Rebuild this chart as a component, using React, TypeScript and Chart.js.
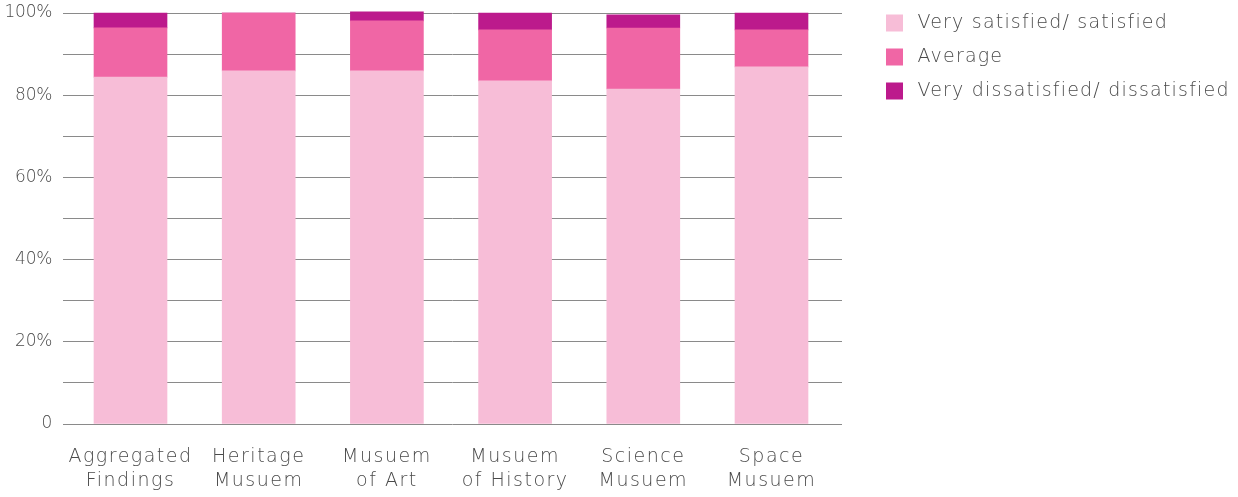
import React, { useEffect, useRef } from 'react';
import { Chart, registerables } from 'chart.js';

Chart.register(...registerables);

// ---- data ----
const categories: string[][] = [
  ['Aggregated', 'Findings'],
  ['Heritage', 'Musuem'],
  ['Musuem', 'of Art'],
  ['Musuem', 'of History'],
  ['Science', 'Musuem'],
  ['Space', 'Musuem'],
];
const seriesNames = ['Very satisfied/ satisfied', 'Average', 'Very dissatisfied/ dissatisfied'];
const satisfied = [84.4, 85.9, 85.9, 83.5, 81.5, 86.9];
const average = [12.0, 14.1, 12.2, 12.4, 14.85, 9.0];
const dissatisfied = [3.6, 0, 2.2, 4.1, 3.2, 4.1];
const seriesColors = ['#F7BDD7', '#F066A5', '#BC1A8C'];
const yMax = 100;
const yStep = 10;

// ---- layout constants ----
const W = 1238;
const H = 497;
const PLOT_LEFT = 63;
const PLOT_RIGHT = 842;
const PLOT_TOP = 13;
const PLOT_BOTTOM = 424;
const LEGEND_BOX_X = 886;
const LEGEND_TOP = -1.5;
const FIRST_CENTER = 130.5;
const CENTER_STEP = 128.2;
const FONT = "'DejaVu Sans', sans-serif";
const TEXT = '#4a4a4a';
const GRID = '#8a8a8a';
const SPACING_X = '1.5px';
const SPACING_Y = '-0.3px';
const SPACING_LEGEND = '1.2px';

function withSpacing(obj: any, key: string, spacing: string) {
  if (obj.__spaced && obj.__spaced[key]) return;
  const orig = obj[key].bind(obj);
  obj[key] = function (...args: any[]) {
    const ctx = obj.ctx;
    const prev = ctx.letterSpacing;
    ctx.letterSpacing = spacing;
    const r = orig(...args);
    ctx.letterSpacing = prev;
    return r;
  };
  obj.__spaced = { ...(obj.__spaced || {}), [key]: true };
}

const layoutPlugin = {
  id: 'layoutPlugin',
  beforeLayout(chart: any) {
    const lg = chart.legend;
    if (lg && !lg.__patched) {
      const orig = lg.fit.bind(lg);
      lg.fit = function () {
        orig();
        this.width = chart.width - PLOT_RIGHT;
      };
      lg.__patched = true;
    }
  },
  afterLayout(chart: any) {
    const lg = chart.legend;
    if (lg) {
      const pad = lg.options.labels.padding;
      const dx = LEGEND_BOX_X - (lg.left + pad);
      lg.left += dx;
      lg.right += dx;
      const dy = LEGEND_TOP - lg.top;
      lg.top += dy;
      lg.bottom += dy;
      withSpacing(lg, 'draw', SPACING_LEGEND);
    }
    if (chart.scales.x) withSpacing(chart.scales.x, 'drawLabels', SPACING_X);
    if (chart.scales.y) withSpacing(chart.scales.y, 'drawLabels', SPACING_Y);
  },
};

export default function App() {
  const ref = useRef<HTMLCanvasElement>(null);

  useEffect(() => {
    if (!ref.current) return;
    const xMin = (PLOT_LEFT - FIRST_CENTER) / CENTER_STEP;
    const xMax = (PLOT_RIGHT - FIRST_CENTER) / CENTER_STEP;
    const series = [satisfied, average, dissatisfied];
    const chart = new Chart(ref.current, {
      type: 'bar',
      data: {
        datasets: series.map((vals, si) => ({
          label: seriesNames[si],
          data: vals.map((v, i) => ({ x: i, y: v })),
          backgroundColor: seriesColors[si],
          borderWidth: 0,
          barThickness: 73,
          clip: false as any,
        })),
      },
      options: {
        animation: false,
        responsive: true,
        maintainAspectRatio: false,
        layout: { padding: 0 },
        plugins: {
          tooltip: { enabled: false },
          legend: {
            position: 'right',
            align: 'start',
            labels: {
              boxWidth: 17,
              boxHeight: 17,
              padding: 15,
              color: TEXT,
              font: { family: FONT, size: 19, weight: '200' as any },
              generateLabels: (chart: any) => {
                const items = Chart.defaults.plugins.legend.labels.generateLabels(chart);
                return items.map((it: any) => ({ ...it, text: '\u2009' + it.text, lineWidth: 0 }));
              },
            },
          },
        },
        scales: {
          x: {
            type: 'linear',
            offset: false,
            stacked: true,
            min: xMin,
            max: xMax,
            grid: { display: false },
            border: { display: false },
            afterFit: (s: any) => {
              s.height = H - PLOT_BOTTOM;
              s.paddingLeft = 0;
              s.paddingRight = 0;
            },
            afterBuildTicks: (s: any) => {
              s.ticks = categories.map((_, i) => ({ value: i }));
            },
            ticks: {
              autoSkip: false,
              maxRotation: 0,
              minRotation: 0,
              padding: 13,
              color: TEXT,
              font: { family: FONT, size: 19, weight: '200' as any, lineHeight: 1.26 },
              callback: (v: any) => {
                const i = Math.round(Number(v));
                return Math.abs(Number(v) - i) < 1e-6 && categories[i] ? categories[i] : '';
              },
            },
          },
          y: {
            stacked: true,
            min: 0,
            max: yMax,
            grid: { color: GRID, lineWidth: 1, drawTicks: false },
            border: { display: false },
            afterFit: (s: any) => {
              s.width = PLOT_LEFT;
              s.paddingTop = PLOT_TOP;
              s.paddingBottom = 0;
            },
            ticks: {
              stepSize: yStep,
              padding: 11,
              color: TEXT,
              font: { family: FONT, size: 17, weight: '200' as any },
              callback: (v: any) => (v === 0 ? '0' : v % 20 === 0 ? v + '%' : ''),
            },
          },
        },
      },
      plugins: [layoutPlugin],
    });
    return () => chart.destroy();
  }, []);

  return (
    <div style={{ position: 'absolute', left: 0, top: 0, width: W, height: H, background: '#fff' }}>
      <canvas ref={ref} />
    </div>
  );
}
